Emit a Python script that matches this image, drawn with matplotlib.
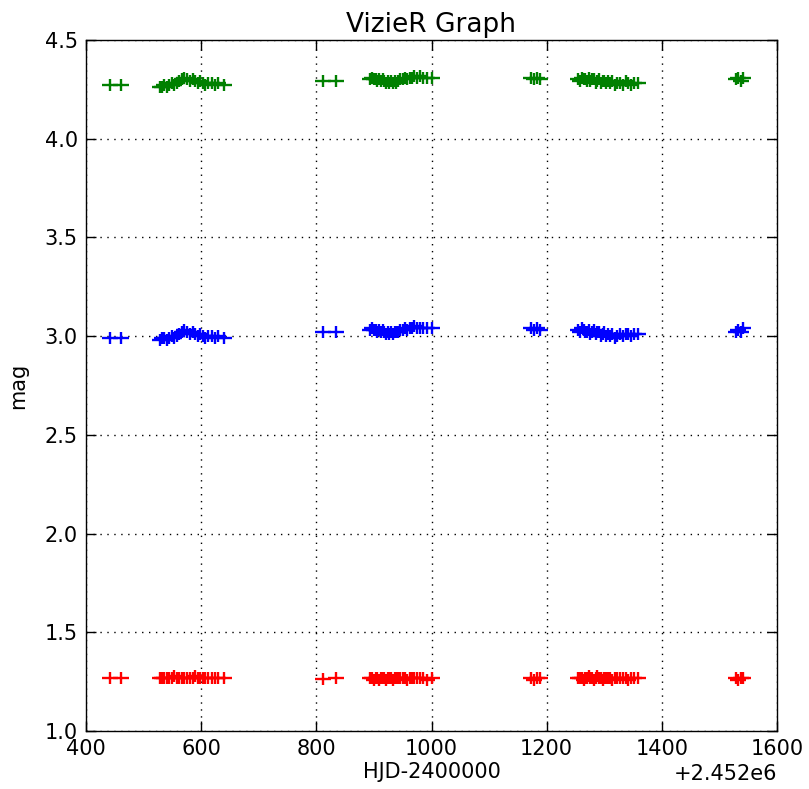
import matplotlib
matplotlib.use("Agg")
import matplotlib.pyplot as plt
from matplotlib.path import Path
from matplotlib.ticker import ScalarFormatter

BASE = 2452000.0

# Observation times (HJD - 2452000)
t = [441, 461,
     528, 532, 536, 540, 545, 549, 553, 558, 562, 566, 571, 575, 580, 585, 590, 594, 598, 603, 607, 612, 618, 624, 630, 640,
     812, 834,
     893, 897, 900, 903, 906, 909, 912, 915, 918, 921, 924, 927, 930, 933, 936, 939, 942, 946, 950, 954, 958, 962, 966, 970, 975, 980, 985, 992, 1000,
     1172, 1178, 1183, 1188,
     1255, 1258, 1261, 1264, 1267, 1270, 1273, 1276, 1279, 1282, 1285, 1288, 1291, 1294, 1297, 1300, 1303, 1306, 1310, 1314, 1318, 1322, 1327, 1332, 1337, 1342, 1347, 1352, 1358,
     1528, 1533, 1537, 1541]

green = [4.27, 4.27,
         4.26, 4.26, 4.27, 4.26, 4.27, 4.28, 4.27, 4.28, 4.29, 4.30, 4.31, 4.30, 4.29, 4.30, 4.29, 4.28, 4.29, 4.28, 4.27, 4.28, 4.28, 4.27, 4.28, 4.27,
         4.29, 4.29,
         4.30, 4.31, 4.30, 4.30, 4.29, 4.30, 4.29, 4.30, 4.29, 4.28, 4.29, 4.28, 4.29, 4.28, 4.29, 4.28, 4.29, 4.30, 4.30, 4.31, 4.30, 4.31, 4.31, 4.32, 4.31, 4.32, 4.31, 4.31, 4.31,
         4.31, 4.30, 4.31, 4.30,
         4.30, 4.29, 4.31, 4.30, 4.30, 4.29, 4.31, 4.29, 4.30, 4.30, 4.28, 4.29, 4.30, 4.28, 4.29, 4.29, 4.28, 4.29, 4.28, 4.29, 4.27, 4.28, 4.28, 4.27, 4.29, 4.28, 4.27, 4.28, 4.28,
         4.30, 4.31, 4.29, 4.31]

blue = [2.99, 2.99,
        2.98, 2.99, 2.99, 2.98, 2.99, 3.00, 2.99, 3.00, 3.01, 3.02, 3.03, 3.02, 3.01, 3.02, 3.01, 3.00, 3.01, 3.00, 2.99, 3.00, 3.00, 2.99, 3.00, 2.99,
        3.02, 3.02,
        3.03, 3.04, 3.03, 3.03, 3.02, 3.03, 3.02, 3.03, 3.02, 3.01, 3.02, 3.01, 3.02, 3.01, 3.02, 3.02, 3.02, 3.03, 3.03, 3.04, 3.03, 3.04, 3.04, 3.05, 3.04, 3.04, 3.04, 3.04, 3.04,
        3.04, 3.03, 3.04, 3.03,
        3.03, 3.02, 3.04, 3.03, 3.02, 3.02, 3.03, 3.01, 3.02, 3.03, 3.01, 3.02, 3.02, 3.00, 3.01, 3.02, 3.00, 3.01, 3.00, 3.01, 2.99, 3.00, 3.01, 3.00, 3.01, 3.01, 3.00, 3.01, 3.01,
        3.02, 3.03, 3.02, 3.04]

red = [1.27, 1.27,
       1.27, 1.27, 1.27, 1.27, 1.27, 1.27, 1.28, 1.27, 1.27, 1.27, 1.27, 1.27, 1.27, 1.27, 1.28, 1.27, 1.27, 1.27, 1.27, 1.27, 1.27, 1.27, 1.27, 1.27,
       1.265, 1.27,
       1.27, 1.27, 1.26, 1.27, 1.27, 1.26, 1.27, 1.27, 1.27, 1.26, 1.27, 1.27, 1.27, 1.26, 1.27, 1.27, 1.27, 1.27, 1.27, 1.27, 1.26, 1.27, 1.27, 1.27, 1.27, 1.27, 1.27, 1.26, 1.27,
       1.27, 1.26, 1.27, 1.27,
       1.27, 1.27, 1.27, 1.26, 1.27, 1.27, 1.28, 1.27, 1.27, 1.26, 1.27, 1.28, 1.27, 1.27, 1.26, 1.27, 1.27, 1.27, 1.27, 1.26, 1.27, 1.27, 1.27, 1.27, 1.27, 1.26, 1.27, 1.27, 1.27,
       1.27, 1.26, 1.27, 1.27]

hjd = [BASE + v for v in t]

plt.rcParams['font.family'] = ['DejaVu Sans']

fig = plt.figure(figsize=(8.09, 7.89), dpi=100, facecolor='white')
ax = fig.add_axes([86/809, 1-731/789, (777-86)/809, (731-40)/789])

plus = Path([(-1.0, 0.0), (1.0, 0.0), (0.0, -0.75), (0.0, 0.75)],
            [Path.MOVETO, Path.LINETO, Path.MOVETO, Path.LINETO])

for ys, c in [(green, 'green'), (blue, 'blue'), (red, 'red')]:
    ax.plot(hjd, ys, linestyle='none', marker=plus, markersize=11.5,
            markeredgewidth=1.7, color=c, markerfacecolor='none', markeredgecolor=c)

ax.set_xlim(BASE + 400, BASE + 1600)
ax.set_ylim(1.0, 4.5)
ax.set_xticks([BASE + v for v in [400, 600, 800, 1000, 1200, 1400, 1600]])
ax.set_yticks([1.0, 1.5, 2.0, 2.5, 3.0, 3.5, 4.0, 4.5])
fmt = ScalarFormatter(useOffset=BASE, useMathText=False)
ax.xaxis.set_major_formatter(fmt)
ax.grid(True, linestyle=(0, (1, 4)), color='black', linewidth=1.0)
ax.tick_params(direction='in', top=True, right=True, length=7, width=1, labelsize=15, pad=6)
for s in ax.spines.values():
    s.set_linewidth(1.0)
ax.xaxis.get_offset_text().set_fontsize(15)
ax.set_title('VizieR Graph', fontsize=19)
ax.set_xlabel('HJD-2400000', fontsize=15, labelpad=2)
ax.set_ylabel('mag', fontsize=15, labelpad=12)

fig.savefig('out.png', dpi=100, facecolor='white')
